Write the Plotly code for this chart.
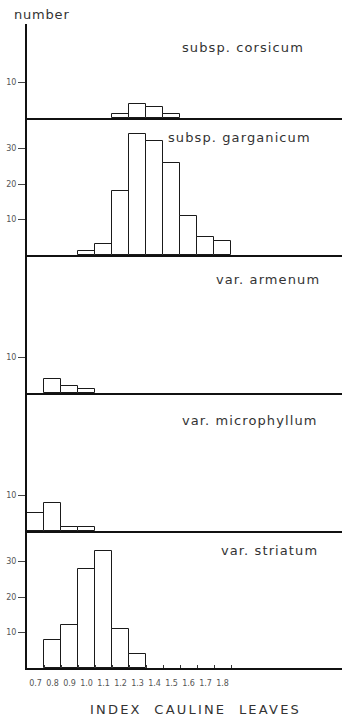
import plotly.graph_objects as go

# index of cauline leaves, bin centres
bins = [0.7, 0.8, 0.9, 1.0, 1.1, 1.2, 1.3, 1.4, 1.5, 1.6, 1.7, 1.8]
bin_labels = ["0.7", "0.8", "0.9", "1.0", "1.1", "1.2", "1.3", "1.4", "1.5", "1.6", "1.7", "1.8"]

corsicum = [0, 0, 0, 0, 0, 1, 4, 3, 1, 0, 0, 0]
garganicum = [0, 0, 0, 1, 3, 18, 34, 32, 26, 11, 5, 4]
armenum = [0, 4, 2, 1, 0, 0, 0, 0, 0, 0, 0, 0]
microphyllum = [5, 8, 1, 1, 0, 0, 0, 0, 0, 0, 0, 0]
striatum = [0, 8, 12, 28, 33, 11, 4, 0, 0, 0, 0, 0]

panels = [
    ("subsp. corsicum", corsicum, [10]),
    ("subsp. garganicum", garganicum, [10, 20, 30]),
    ("var. armenum", armenum, [10]),
    ("var. microphyllum", microphyllum, [10]),
    ("var. striatum", striatum, [10, 20, 30]),
]

W, H = 342, 722
# panel edges in page pixels (top, bottom)
edges = [(24, 118), (118, 255), (255, 393), (393, 531), (531, 668)]
# where the panel names sit (right edge x, centre y)
name_pos = [(306, 47), (313, 138), (322, 279), (320, 420), (320, 550)]
px_per_unit = 3.55
x_left = 27
x_range = [0.65, 0.65 + (W - x_left) / 170.0]

font = "DejaVu Sans"


def spaced(text, px):
    return '<span style="letter-spacing:%spx">%s</span>' % (px, text)


fig = go.Figure()
layout = dict(
    width=W,
    height=H,
    margin=dict(l=0, r=0, t=0, b=0, autoexpand=False),
    paper_bgcolor="white",
    plot_bgcolor="white",
    showlegend=False,
    bargap=0,
)
annotations = []

for i, (name, counts, yticks) in enumerate(panels):
    n = i + 1
    top, bot = edges[i]
    xs = [b for b, c in zip(bins, counts) if c > 0]
    ys = [c for c in counts if c > 0]
    fig.add_trace(
        go.Bar(
            x=xs,
            y=ys,
            width=0.1,
            marker=dict(color="white", line=dict(color="#1a1a1a", width=1)),
            xaxis="x" + str(n),
            yaxis="y" + str(n),
        )
    )
    last = n == len(panels)
    layout["xaxis" + str(n)] = dict(
        domain=[x_left / W, 1],
        range=x_range,
        anchor="y" + str(n),
        automargin=False,
        showline=True,
        linecolor="#111",
        linewidth=2,
        showgrid=False,
        zeroline=False,
        tickmode="array",
        tickvals=bins if last else [],
        ticktext=bin_labels if last else [],
        ticks="",
        tickfont=dict(family=font, size=8, color="#555"),
        ticklabelstandoff=6,
        minor=dict(
            tickmode="array",
            tickvals=[round(0.75 + 0.1 * k, 2) for k in range(12)] if last else [],
            ticks="inside" if last else "",
            ticklen=3,
            tickcolor="#333",
            showgrid=False,
        ),
    )
    layout["yaxis" + str(n)] = dict(
        domain=[1 - bot / H, 1 - top / H],
        range=[0, (bot - top) / px_per_unit],
        anchor="x" + str(n),
        automargin=False,
        showline=True,
        linecolor="#111",
        linewidth=2,
        showgrid=False,
        zeroline=False,
        tickmode="array",
        tickvals=yticks,
        ticks="outside",
        ticklen=7,
        tickcolor="#444",
        tickfont=dict(family=font, size=8, color="#555"),
    )
    nx, ny = name_pos[i]
    annotations.append(
        dict(
            text=spaced(name, 1.1),
            x=nx / W,
            y=1 - ny / H,
            xref="paper",
            yref="paper",
            xanchor="right",
            yanchor="middle",
            showarrow=False,
            font=dict(family=font, size=13, color="#333"),
        )
    )

annotations.append(
    dict(
        text=spaced("number", 0.8),
        x=12 / W,
        y=1 - 14 / H,
        xref="paper",
        yref="paper",
        xanchor="left",
        yanchor="middle",
        showarrow=False,
        font=dict(family=font, size=13, color="#333"),
    )
)
annotations.append(
    dict(
        text=spaced("INDEX  CAULINE  LEAVES", 2.2),
        x=195 / W,
        y=1 - 709 / H,
        xref="paper",
        yref="paper",
        xanchor="center",
        yanchor="middle",
        showarrow=False,
        font=dict(family=font, size=13, color="#333"),
    )
)
layout["annotations"] = annotations
fig.update_layout(**layout)

# the page body has a default 8px margin; drop it so the figure fills the window
fig.write_html(
    "out.html",
    config={"displayModeBar": False},
    post_script="document.body.style.margin = '0';",
)
